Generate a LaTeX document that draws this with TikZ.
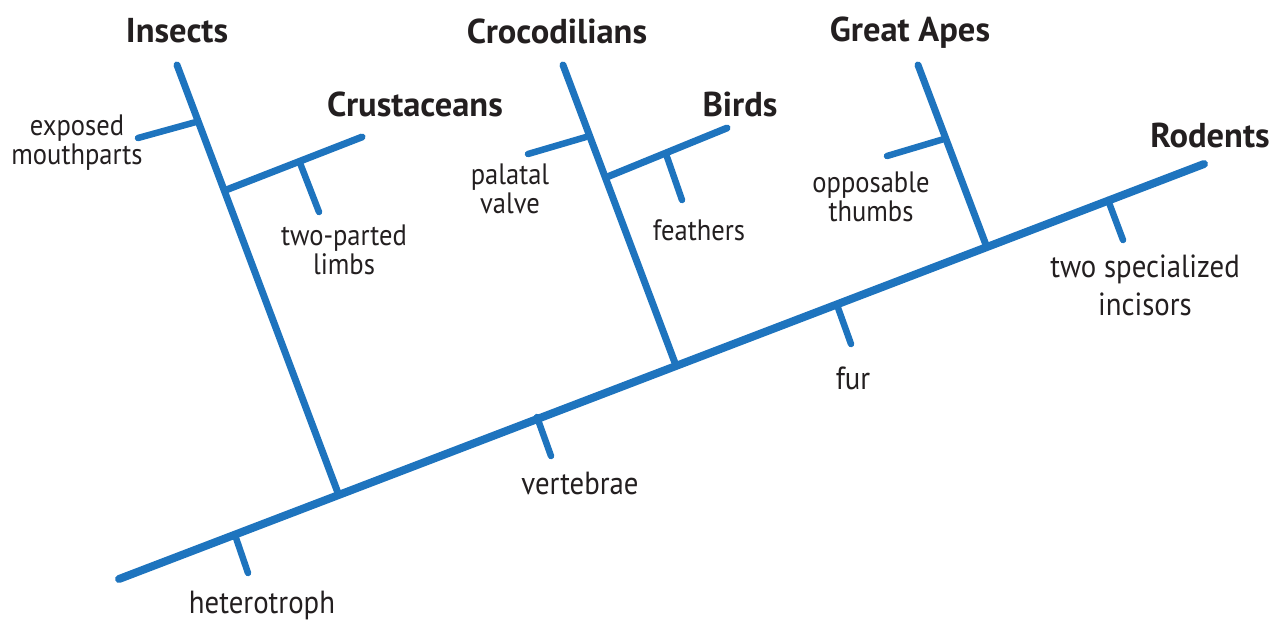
\documentclass[tikz,border=0pt]{standalone}
\usepackage{fontspec}
\setmainfont{PT Sans}
\newfontfamily\labfam[FakeStretch=0.9]{PT Sans}
\definecolor{treeblue}{RGB}{30,116,190}
\definecolor{txt}{RGB}{35,31,32}
\begin{document}
\begin{tikzpicture}[x=1pt,y=-1pt,
  trunk/.style={draw=treeblue,line width=8pt,line cap=round},
  branch/.style={draw=treeblue,line width=7pt,line cap=round},
  tick/.style={draw=treeblue,line width=6.5pt,line cap=round},
  title/.style={text=txt,font=\fontsize{34.5}{38}\selectfont\bfseries,inner sep=0pt},
  lab/.style={text=txt,font=\labfam\fontsize{32}{38}\selectfont,align=center,inner sep=0pt},
  slab/.style={text=txt,font=\labfam\fontsize{29.5}{29}\selectfont,align=center,inner sep=0pt}]
\useasboundingbox (0,0) rectangle (1273,622);
% trunk points
\coordinate (T0) at (119,579);
\coordinate (T1) at (1204,164);
\coordinate (Jins) at (338,493);
\coordinate (Jcro) at (675,363);
\coordinate (Jape) at (986,245);
% branch tops
\coordinate (Tins) at (177,65);
\coordinate (Tcro) at (563,65);
\coordinate (Tape) at (918,65);
% sub-branches
\coordinate (Jcru) at (226,190);
\coordinate (Tcru) at (362,137);
\coordinate (Jbir) at (607,177);
\coordinate (Tbir) at (727,128);
% ticks
\coordinate (h1) at (235,535); \coordinate (h2) at (248,573);
\coordinate (v1) at (537,417); \coordinate (v2) at (551,456);
\coordinate (f1) at (837,305); \coordinate (f2) at (851,344);
\coordinate (i1) at (1108,200); \coordinate (i2) at (1123,240);
\coordinate (e1) at (196,122); \coordinate (e2) at (138,138);
\coordinate (t1) at (300,163); \coordinate (t2) at (319,212);
\coordinate (p1) at (586,137); \coordinate (p2) at (528,154);
\coordinate (fe1) at (666,154); \coordinate (fe2) at (682,200);
\coordinate (o1) at (944,139); \coordinate (o2) at (887,156);

\draw[trunk] (T0) -- (T1);
\draw[branch] (Jins) -- (Tins);
\draw[branch] (Jcro) -- (Tcro);
\draw[branch] (Jape) -- (Tape);
\draw[branch] (Jcru) -- (Tcru);
\draw[branch] (Jbir) -- (Tbir);
\draw[tick] (h1) -- (h2);
\draw[tick] (v1) -- (v2);
\draw[tick] (f1) -- (f2);
\draw[tick] (i1) -- (i2);
\draw[tick] (e1) -- (e2);
\draw[tick] (t1) -- (t2);
\draw[tick] (p1) -- (p2);
\draw[tick] (fe1) -- (fe2);
\draw[tick] (o1) -- (o2);

\node[title] (insects) at (177,31) {Insects};
\node[title] (croc) at (557,31) {Crocodilians};
\node[title] (apes) at (910,33) {Great Apes};
\node[title] (crus) at (415,104) {Crustaceans};
\node[title] (birds) at (740,104) {Birds};
\node[title] (rod) at (1210,135) {Rodents};

\node[slab] (lexp) at (77,143) {exposed\\mouthparts};
\node[slab] (ltwo) at (344,250) {two-parted\\limbs};
\node[slab] (lpal) at (510,189) {palatal\\valve};
\node[slab] (lfea) at (699,230) {feathers};
\node[slab] (lopp) at (871,197) {opposable\\thumbs};
\node[lab] (linc) at (1145,285) {two specialized\\incisors};
\node[lab] (lfur) at (853,378) {fur};
\node[lab] (lver) at (580,483) {vertebrae};
\node[lab] (lhet) at (262,605) {heterotroph};
\end{tikzpicture}
\end{document}
